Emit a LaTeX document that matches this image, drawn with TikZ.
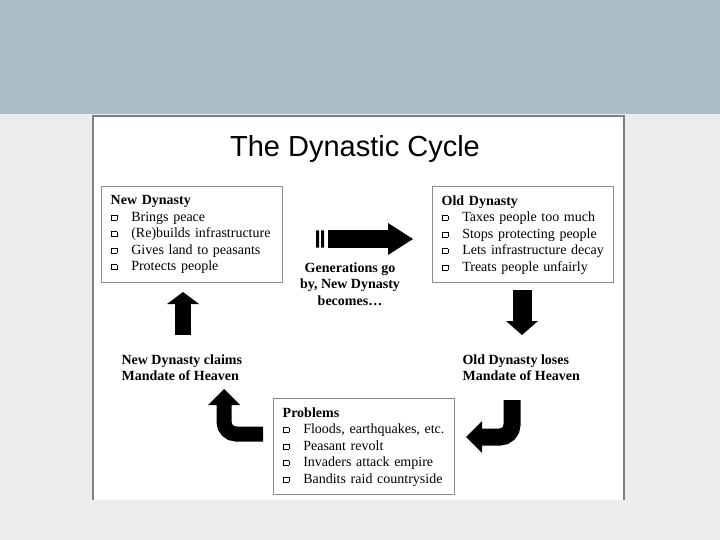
\documentclass[tikz,border=0pt]{standalone}
\usepackage{fontspec}
\setmainfont{Liberation Serif}
\newfontfamily\titlefont{Liberation Sans}
\usetikzlibrary{arrows.meta}
\definecolor{bandblue}{HTML}{AAC0C6}
\definecolor{slidegray}{HTML}{ECECEF}
\definecolor{framegray}{HTML}{808080}
\definecolor{boxgray}{HTML}{8C8C8C}
\newcommand{\sqbul}{\raisebox{1.5pt}{\setlength{\fboxsep}{0pt}\setlength{\fboxrule}{0.8pt}\fbox{\rule{0pt}{4pt}\hspace{5pt}}}\hspace{14pt}}

\begin{document}
\begin{tikzpicture}[x=1pt,y=-1pt,
	listbox/.style={draw=boxgray,line width=1.4pt,fill=white,anchor=north west,align=left,text width=163pt,inner xsep=9pt,minimum height=96pt,font=\fontsize{14}{16.5}\selectfont},
	caption/.style={align=left,font=\bfseries\fontsize{14}{16.5}\selectfont},
	blockarrow/.style 2 args={line width=#1,-{Triangle[length=#2,width=32pt,line width=0pt]}}]
	\useasboundingbox (0,0) rectangle (720,540);
	% slide background
	\fill[slidegray] (0,0) rectangle (720,540);
	\fill[bandblue] (0,0) rectangle (720,114);
	\fill[white] (93,116) rectangle (624,500);
	\draw[framegray,line width=1.5pt] (93,500) -- (93,116) -- (624,116) -- (624,500);
	\path (355,149) node[font=\titlefont\fontsize{29}{34}\selectfont] (title) {The Dynastic Cycle}
	(101,186) node[listbox] (newdyn) {\textbf{New Dynasty}\\ \sqbul Brings peace\\ \sqbul (Re)builds infrastructure\\ \sqbul Gives land to peasants\\ \sqbul Protects people}
	(432,186) node[listbox] (olddyn) {\textbf{Old Dynasty}\\ \sqbul Taxes people too much\\ \sqbul Stops protecting people\\ \sqbul Lets infrastructure decay\\ \sqbul Treats people unfairly}
	(273,398) node[listbox] (problems) {\textbf{Problems}\\ \sqbul Floods, earthquakes, etc.\\ \sqbul Peasant revolt\\ \sqbul Invaders attack empire\\ \sqbul Bandits raid countryside};
	\node[caption,align=center] (gen) at (350,284) {Generations go\\ by, New Dynasty\\ becomes\ldots};
	\node[caption,anchor=west] (claims) at (118,367.5) {New Dynasty claims\\ Mandate of Heaven};
	\node[caption,anchor=west] (loses) at (459,367.5) {Old Dynasty loses\\ Mandate of Heaven};
	% arrow ends
	\coordinate (gen-a) at (328,239);
	\coordinate (gen-b) at (413,239);
	\coordinate (old-a) at (522,290);
	\coordinate (old-b) at (522,335);
	\coordinate (lose-a) at (512,400);
	\coordinate (lose-b) at (466,437);
	\coordinate (prob-a) at (263,434);
	\coordinate (prob-b) at (224,389);
	\coordinate (claim-a) at (183,335);
	\coordinate (claim-b) at (183,292);
	\fill (316,230.5) rectangle (319,247.5) (321,230.5) rectangle (324,247.5);
	\draw[blockarrow={17pt}{25pt}] (gen-a) -- (gen-b);
	\draw[blockarrow={19pt}{14pt}] (old-a) -- (old-b);
	\draw[blockarrow={17pt}{16pt},rounded corners=12pt] (lose-a) |- (lose-b);
	\draw[blockarrow={15pt}{16pt},rounded corners=12pt] (prob-a) -| (prob-b);
	\draw[blockarrow={16pt}{12pt}] (claim-a) -- (claim-b);
\end{tikzpicture}
\end{document}
